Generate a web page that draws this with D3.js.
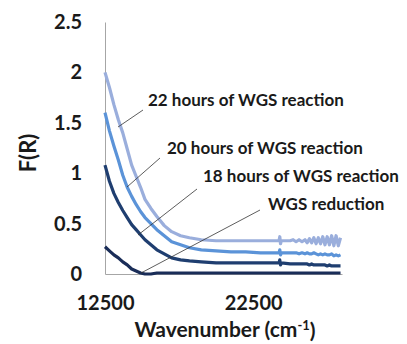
<!DOCTYPE html>
<html>
<head>
<meta charset="utf-8">
<script src="https://cdn.jsdelivr.net/npm/d3@7"></script>
<style>
  body { margin: 0; background: #fff; }
  text { font-family: Lato, "Open Sans", sans-serif; font-weight: bold; fill: #1a1a1a; }
</style>
</head>
<body>
<svg id="chart" width="407" height="344"></svg>
<script>
// wavenumber samples shared by all spectra (cm-1)
var wavenumbers = [12500, 12800, 13100, 13400, 13700, 14000, 14300, 14600, 14900, 15200,
  15600, 16000, 16500, 17000, 17600, 18200, 19000, 20000, 21000, 22000,
  23000, 24000, 24250, 24300, 24350, 24400,
  25000, 25200, 25400, 25600, 25800, 26000, 26150, 26300, 26450, 26600, 26750,
  26900, 27050, 27200, 27350, 27500, 27650, 27800, 27950, 28100, 28250, 28400];

var hours22 = [2.00, 1.85, 1.68, 1.53, 1.40, 1.24, 1.08, 0.97, 0.86, 0.74,
  0.65, 0.57, 0.48, 0.42, 0.38, 0.36, 0.34, 0.33, 0.33, 0.33,
  0.33, 0.33, 0.33, 0.37, 0.30, 0.33,
  0.33, 0.34, 0.32, 0.34, 0.32, 0.34, 0.31, 0.35, 0.31, 0.36, 0.30,
  0.36, 0.30, 0.37, 0.29, 0.37, 0.29, 0.38, 0.28, 0.38, 0.28, 0.36];

var hours20 = [1.60, 1.42, 1.27, 1.13, 0.98, 0.86, 0.77, 0.69, 0.62, 0.56,
  0.50, 0.44, 0.38, 0.32, 0.29, 0.26, 0.24, 0.23, 0.22, 0.22,
  0.21, 0.21, 0.21, 0.24, 0.19, 0.21,
  0.21, 0.21, 0.21, 0.20, 0.21, 0.20, 0.21, 0.20, 0.20, 0.21, 0.20,
  0.19, 0.20, 0.19, 0.20, 0.19, 0.19, 0.20, 0.18, 0.19, 0.18, 0.19];

var hours18 = [1.08, 0.92, 0.80, 0.71, 0.63, 0.56, 0.49, 0.44, 0.39, 0.34,
  0.29, 0.24, 0.20, 0.16, 0.14, 0.13, 0.12, 0.11, 0.11, 0.11,
  0.11, 0.11, 0.11, 0.14, 0.09, 0.11,
  0.10, 0.10, 0.10, 0.10, 0.10, 0.10, 0.10, 0.09, 0.10, 0.09, 0.09,
  0.09, 0.09, 0.09, 0.09, 0.08, 0.09, 0.08, 0.08, 0.08, 0.08, 0.08];

var reduction = [0.27, 0.23, 0.19, 0.16, 0.12, 0.09, 0.05, 0.03, 0.01, 0.00,
  0.00, 0.01, 0.01, 0.01, 0.01, 0.01, 0.01, 0.01, 0.01, 0.01,
  0.01, 0.01, 0.01, 0.01, 0.01, 0.01,
  0.01, 0.01, 0.01, 0.01, 0.01, 0.01, 0.01, 0.01, 0.01, 0.01, 0.01,
  0.01, 0.01, 0.01, 0.01, 0.01, 0.01, 0.01, 0.01, 0.01, 0.01, 0.01];

var seriesNames = ["22 hours of WGS reaction", "20 hours of WGS reaction", "18 hours of WGS reaction", "WGS reduction"];
var seriesColors = ["#9aaedc", "#5b93d8", "#1f3e70", "#1a2d58"];
var xTicks = [12500, 22500];
var yTicks = [0, 0.5, 1, 1.5, 2, 2.5];

// label anchor (text start, px) and leader line end points (px)
var labelPos = [[148, 100], [167, 148], [203, 176], [268, 204]];
var leaderLines = [[[118, 127], [143, 110]], [[127, 187], [160, 158]], [[138, 235], [197, 189]], [[141, 273], [260, 210]]];

const svg = d3.select("#chart");
const x = d3.scaleLinear().domain([12500, 28500]).range([105, 342]);
const y = d3.scaleLinear().domain([0, 2.5]).range([274, 22]);

// axes
svg.append("g")
  .attr("transform", "translate(0,274)")
  .call(d3.axisBottom(x).tickValues(xTicks).tickSize(0).tickPadding(22).tickFormat(d3.format("d")))
  .call(g => g.select(".domain").attr("stroke", "#a6a6a6"))
  .call(g => g.selectAll("text").attr("font-size", 20).attr("fill", "#1a1a1a"));

svg.append("g")
  .attr("transform", "translate(105,0)")
  .call(d3.axisLeft(y).tickValues(yTicks).tickSize(0).tickPadding(23).tickFormat(d => d))
  .call(g => g.select(".domain").attr("stroke", "#a6a6a6"))
  .call(g => g.selectAll("text").attr("font-size", 20).attr("fill", "#1a1a1a"));

svg.selectAll(".tick text").style("font-family", "Lato, 'Open Sans', sans-serif").style("font-weight", "bold");

// spectra
var allSeries = [hours22, hours20, hours18, reduction];
const line = d3.line().x((d, i) => x(wavenumbers[i])).y(d => y(d));

svg.selectAll("path.spec")
  .data(allSeries.slice().reverse())
  .enter()
  .append("path")
  .attr("class", "spec")
  .attr("fill", "none")
  .attr("stroke", (d, i) => seriesColors[3 - i])
  .attr("stroke-width", 3.2)
  .attr("stroke-linejoin", "round")
  .attr("d", line);

// leader lines + labels
svg.selectAll("line.leader")
  .data(leaderLines)
  .enter()
  .append("line")
  .attr("x1", d => d[0][0]).attr("y1", d => d[0][1])
  .attr("x2", d => d[1][0]).attr("y2", d => d[1][1])
  .attr("stroke", "#333")
  .attr("stroke-width", 0.8);

svg.selectAll("text.lbl")
  .data(seriesNames)
  .enter()
  .append("text")
  .attr("class", "lbl")
  .attr("x", (d, i) => labelPos[i][0])
  .attr("y", (d, i) => labelPos[i][1])
  .attr("dy", "0.35em")
  .attr("font-size", 17)
  .text(d => d);

// axis titles
svg.append("text")
  .attr("transform", "translate(28,153) rotate(-90)")
  .attr("text-anchor", "middle")
  .attr("dy", "0.35em")
  .attr("font-size", 22)
  .text("F(R)");

const xt = svg.append("text")
  .attr("x", 225)
  .attr("y", 330)
  .attr("text-anchor", "middle")
  .attr("dy", "0.35em")
  .attr("font-size", 21);
xt.append("tspan").text("Wavenumber (cm");
xt.append("tspan").attr("font-size", 13).attr("dy", "-0.6em").text("-1");
xt.append("tspan").attr("dy", "0.4em").text(")");
</script>
</body>
</html>
